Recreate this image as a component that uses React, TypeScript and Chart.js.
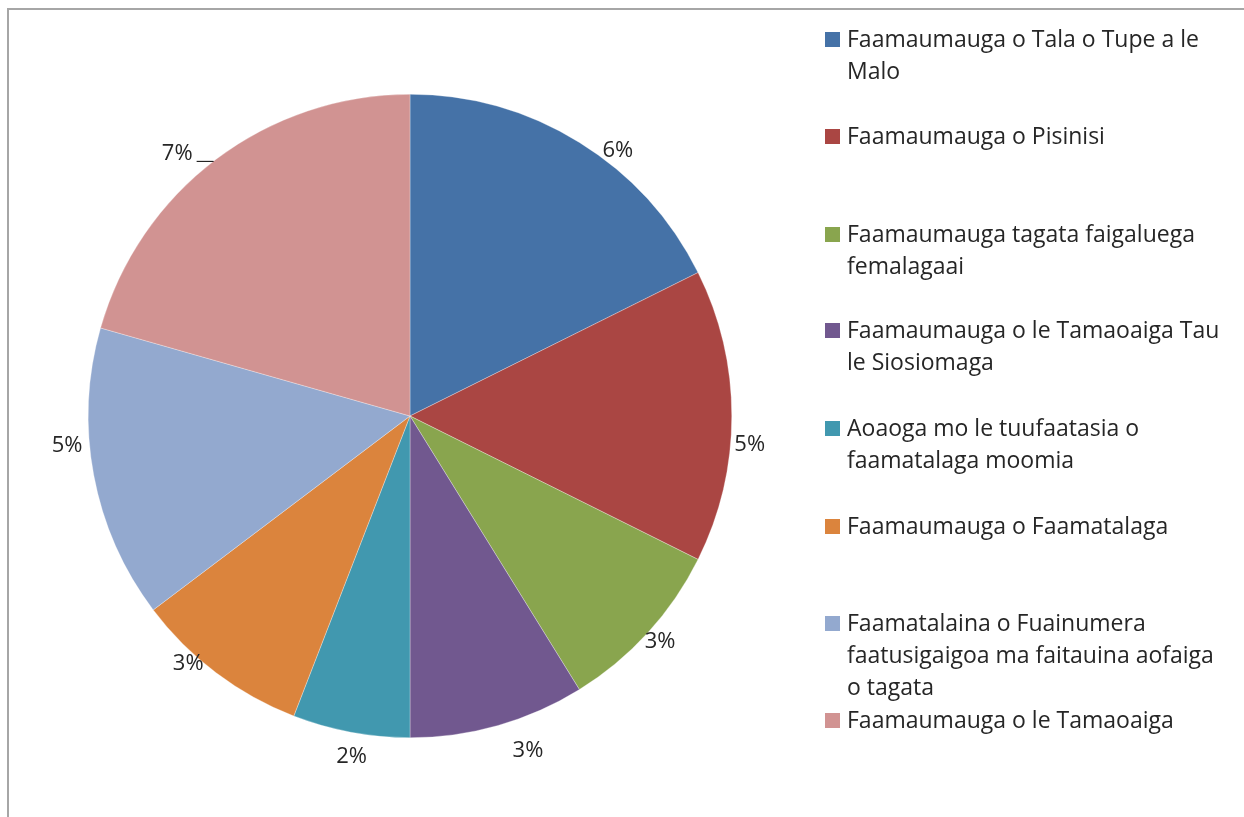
import React, { useEffect, useRef } from "react";
import { Chart, registerables } from "chart.js";

Chart.register(...registerables);

const categories: string[][] = [
  ["Faamaumauga o Tala o Tupe a le", "Malo"],
  ["Faamaumauga o Pisinisi"],
  ["Faamaumauga tagata faigaluega", "femalagaai"],
  ["Faamaumauga o le Tamaoaiga Tau", "le Siosiomaga"],
  ["Aoaoga mo le tuufaatasia o", "faamatalaga moomia"],
  ["Faamaumauga o Faamatalaga"],
  ["Faamatalaina o Fuainumera", "faatusigaigoa ma faitauina aofaiga", "o tagata"],
  ["Faamaumauga o le Tamaoaiga"],
];
const values: number[] = [6, 5, 3, 3, 2, 3, 5, 7];
const valueLabels: string[] = ["6%", "5%", "3%", "3%", "2%", "3%", "5%", "7%"];
const colors: string[] = [
  "#4572A7",
  "#AA4643",
  "#89A54E",
  "#71588F",
  "#4198AF",
  "#DB843D",
  "#93A9CF",
  "#D19392",
];
// label nudges (px) relative to the mid-angle anchor
const labelNudge: [number, number][] = [
  [29, 24],
  [0, 29],
  [-1, -3],
  [25, 8],
  [4, 7],
  [-17, -23],
  [-9, -33],
  [-28, 9],
];
// legend first-line centre y
const legendY: number[] = [39, 136, 234, 330, 428, 526, 623, 720];

const W = 1244;
const H = 817;
const TEXT = "#262626";
const FONT = '"Open Sans", sans-serif';

const overlay = {
  id: "overlay",
  afterDraw(chart: any) {
    const ctx = chart.ctx as CanvasRenderingContext2D;
    ctx.save();
    // frame
    ctx.strokeStyle = "#a6a6a6";
    ctx.lineWidth = 2;
    ctx.beginPath();
    ctx.moveTo(W, 9);
    ctx.lineTo(8, 9);
    ctx.lineTo(8, H);
    ctx.stroke();

    // data labels
    const meta = chart.getDatasetMeta(0);
    ctx.fillStyle = TEXT;
    ctx.font = `22px ${FONT}`;
    ctx.textAlign = "center";
    ctx.textBaseline = "middle";
    meta.data.forEach((arc: any, i: number) => {
      const p = arc.getProps(["x", "y", "startAngle", "endAngle", "outerRadius"], true);
      const mid = (p.startAngle + p.endAngle) / 2;
      const r = p.outerRadius + 18;
      const x = p.x + Math.cos(mid) * r + labelNudge[i][0];
      const y = p.y + Math.sin(mid) * r + labelNudge[i][1];
      ctx.fillText(valueLabels[i], x, y);
      if (i === values.length - 1) {
        const w = ctx.measureText(valueLabels[i]).width;
        ctx.strokeStyle = "#000";
        ctx.lineWidth = 1;
        ctx.beginPath();
        ctx.moveTo(x + w / 2 + 4, y + 7.5);
        ctx.lineTo(x + w / 2 + 21, y + 7.5);
        ctx.stroke();
      }
    });

    // legend
    ctx.textAlign = "left";
    ctx.font = `23px ${FONT}`;
    categories.forEach((lines, i) => {
      const y0 = legendY[i];
      ctx.fillStyle = colors[i];
      ctx.fillRect(825, y0 - 7, 15, 15);
      ctx.fillStyle = TEXT;
      lines.forEach((t, j) => {
        ctx.fillText(t, 847, y0 + 1 + j * 32);
      });
    });
    ctx.restore();
  },
};

export default function App() {
  const ref = useRef<HTMLCanvasElement | null>(null);
  useEffect(() => {
    if (!ref.current) return;
    const chart = new Chart(ref.current, {
      type: "pie",
      data: {
        labels: categories.map((l) => l.join(" ")),
        datasets: [
          {
            data: values,
            backgroundColor: colors,
            borderColor: "rgba(255,255,255,0.6)",
            borderWidth: 0.5,
          },
        ],
      },
      options: {
        responsive: false,
        animation: false,
        layout: { padding: { left: 88, right: W - 732, top: 94, bottom: H - 738 } },
        plugins: { legend: { display: false }, tooltip: { enabled: false } },
      },
      plugins: [overlay],
    });
    return () => chart.destroy();
  }, []);
  return (
    <div style={{ position: "absolute", left: 0, top: 0, width: W, height: H, background: "#fff" }}>
      <canvas ref={ref} width={W} height={H} style={{ display: "block" }} />
    </div>
  );
}
